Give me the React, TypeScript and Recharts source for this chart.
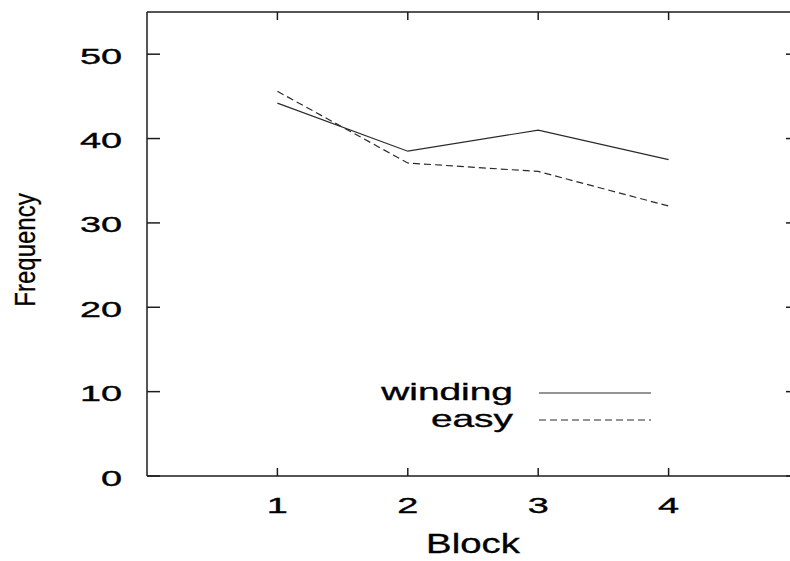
import React from 'react';
import { LineChart, Line, XAxis, YAxis, Legend } from 'recharts';

const blocks = [1, 2, 3, 4];
const winding = [44.2, 38.5, 41.0, 37.5];
const easy = [45.6, 37.1, 36.1, 32.0];
const xTicks = [1, 2, 3, 4];
const yTicks = [0, 10, 20, 30, 40, 50];
const seriesNames = ['winding', 'easy'];

const data = blocks.map((b, i) => ({ block: b, winding: winding[i], easy: easy[i] }));

const FONT = '"Liberation Sans", Arial, Helvetica, sans-serif';
const INK = '#1c1c1c';
const LINE = '#2a2a2a';

const CHART_W = 800;
const CHART_H = 561;
const MARGIN_TOP = 11;
const TOP_AXIS_H = 1;
const LEFT_AXIS_W = 147;
const RIGHT_AXIS_W = 1;
const PLOT_TOP = MARGIN_TOP + TOP_AXIS_H;
const PLOT_RIGHT = CHART_W - RIGHT_AXIS_W;

function Stretch(props: any) {
  const { x, y, sx, size, anchor, children } = props;
  return (
    <text
      transform={`translate(${x},${y}) scale(${sx},1)`}
      fontSize={size}
      fontFamily={FONT}
      fill="#000"
      stroke="#000"
      strokeWidth={0.35}
      textAnchor={anchor}
    >
      {children}
    </text>
  );
}

const BottomTick = (props: any) => {
  const { x, y, payload } = props;
  return (
    <g>
      <line x1={x} y1={y} x2={x} y2={y - 8} stroke={INK} strokeWidth={1.5} />
      <line x1={x} y1={PLOT_TOP} x2={x} y2={PLOT_TOP + 8} stroke={INK} strokeWidth={1.5} />
      <Stretch x={x} y={y + 36.5} sx={1.72} size={22} anchor="middle">{payload.value}</Stretch>
    </g>
  );
};

const LeftTick = (props: any) => {
  const { x, y, payload } = props;
  return (
    <g>
      <line x1={x} y1={y} x2={x + 13} y2={y} stroke={INK} strokeWidth={1.5} />
      <line x1={PLOT_RIGHT} y1={y} x2={PLOT_RIGHT - 13} y2={y} stroke={INK} strokeWidth={1.5} />
      <Stretch x={x - 25} y={y + 9.5} sx={1.72} size={22} anchor="end">{payload.value}</Stretch>
    </g>
  );
};

const FreqLabel = (props: any) => {
  const vb = props.viewBox || { x: 0, y: 12, width: 147, height: 464 };
  const cx = vb.x + 35;
  const cy = vb.y + vb.height / 2 + 6;
  return (
    <text
      transform={`translate(${cx},${cy}) rotate(-90) scale(0.8,1)`}
      fontSize={30}
      fontFamily={FONT}
      fill="#000"
      stroke="#000"
      strokeWidth={0.3}
      textAnchor="middle"
    >
      Frequency
    </text>
  );
};

const BlockLabel = (props: any) => {
  const vb = props.viewBox || { x: 147, y: 476, width: 653, height: 85 };
  return <Stretch x={vb.x + vb.width / 2} y={vb.y + 77} sx={1.37} size={28} anchor="middle">Block</Stretch>;
};

const LegendContent = (props: any) => {
  const raw = props.payload || [];
  const payload = seriesNames
    .map((n) => raw.find((e: any) => e.value === n))
    .filter(Boolean);
  return (
    <svg width={300} height={70} style={{ display: 'block', overflow: 'visible' }}>
      {payload.map((entry: any, i: number) => {
        const base = 30 + i * 27;
        const dash = entry.payload && entry.payload.strokeDasharray;
        return (
          <g key={entry.value}>
            <Stretch x={142} y={base} sx={1.62} size={24} anchor="end">{entry.value}</Stretch>
            <line x1={168} x2={280} y1={base - 7} y2={base - 7} stroke={LINE} strokeWidth={1.2} strokeDasharray={dash} />
          </g>
        );
      })}
    </svg>
  );
};

export default function App() {
  return (
    <div style={{ position: 'absolute', left: 0, top: 0, width: 790, height: 561, overflow: 'hidden', background: '#fff' }}>
      <LineChart width={CHART_W} height={CHART_H} data={data} margin={{ top: MARGIN_TOP, right: 0, bottom: 0, left: 0 }}>
        <XAxis
          dataKey="block"
          type="number"
          domain={[0, 5]}
          ticks={xTicks}
          height={85}
          tickSize={0}
          tickMargin={0}
          tickLine={false}
          axisLine={{ stroke: INK, strokeWidth: 1.5 }}
          tick={<BottomTick />}
          interval={0}
          label={{ content: BlockLabel }}
        />
        <XAxis
          xAxisId="top"
          orientation="top"
          dataKey="block"
          type="number"
          domain={[0, 5]}
          height={TOP_AXIS_H}
          tickLine={false}
          axisLine={{ stroke: INK, strokeWidth: 1.5 }}
          tick={false}
        />
        <YAxis
          type="number"
          domain={[0, 55]}
          ticks={yTicks}
          width={LEFT_AXIS_W}
          tickSize={0}
          tickMargin={0}
          tickLine={false}
          axisLine={{ stroke: INK, strokeWidth: 1.5 }}
          tick={<LeftTick />}
          interval={0}
          allowDataOverflow
          label={{ content: FreqLabel }}
        />
        <YAxis
          yAxisId="right"
          orientation="right"
          type="number"
          domain={[0, 55]}
          width={RIGHT_AXIS_W}
          tickLine={false}
          axisLine={{ stroke: INK, strokeWidth: 1.5 }}
          tick={false}
          allowDataOverflow
        />
        <Legend
          layout="vertical"
          align="center"
          verticalAlign="middle"
          wrapperStyle={{ position: 'absolute', left: 371, top: 370, width: 300, height: 70 }}
          content={<LegendContent />}
        />
        <Line
          type="linear"
          dataKey="winding"
          name={seriesNames[0]}
          stroke={LINE}
          strokeWidth={1.2}
          dot={false}
          activeDot={false}
          isAnimationActive={false}
        />
        <Line
          type="linear"
          dataKey="easy"
          name={seriesNames[1]}
          stroke={LINE}
          strokeWidth={1.2}
          strokeDasharray="7 4"
          dot={false}
          activeDot={false}
          isAnimationActive={false}
        />
        <Line
          xAxisId="top"
          yAxisId="right"
          type="linear"
          dataKey="winding"
          stroke="none"
          strokeOpacity={0}
          legendType="none"
          dot={false}
          activeDot={false}
          isAnimationActive={false}
        />
      </LineChart>
    </div>
  );
}
